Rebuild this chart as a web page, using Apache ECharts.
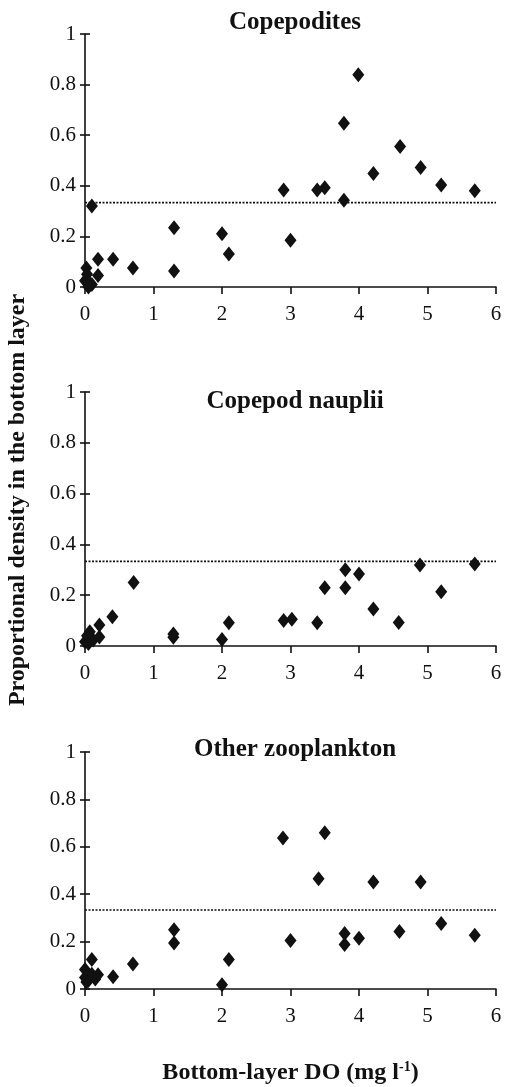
<!DOCTYPE html>
<html>
<head>
<meta charset="utf-8">
<script src="https://cdn.jsdelivr.net/npm/echarts@6/dist/echarts.min.js"></script>
<style>html,body{margin:0;padding:0;background:#fff;}#c{width:506px;height:1087px;}</style>
</head>
<body>
<div id="c"></div>
<script>
var panelTitles = ['Copepodites', 'Copepod nauplii', 'Other zooplankton'];
var yTickValues = [0, 0.2, 0.4, 0.6, 0.8, 1];
var xTickValues = [0, 1, 2, 3, 4, 5, 6];
var referenceLevel = 1 / 3;

var copepodites = [
  [0.02,0.075],[0.03,0.05],[0.0,0.025],[0.05,0.02],[0.1,0.01],[0.05,0.0],
  [0.1,0.32],[0.19,0.11],[0.41,0.11],[0.19,0.045],[0.7,0.075],
  [1.3,0.234],[1.3,0.063],[2.0,0.21],[2.1,0.13],[2.9,0.383],[3.0,0.185],
  [3.39,0.383],[3.5,0.392],[3.78,0.647],[3.78,0.343],[3.99,0.839],
  [4.21,0.449],[4.6,0.555],[4.9,0.472],[5.2,0.403],[5.69,0.38]
];
var nauplii = [
  [0.07,0.056],[0.0,0.017],[0.05,0.01],[0.12,0.024],[0.03,0.04],
  [0.4,0.115],[0.21,0.083],[0.21,0.035],[0.71,0.25],
  [1.29,0.047],[1.29,0.034],[2.0,0.026],[2.1,0.092],[2.9,0.1],[3.02,0.105],
  [3.39,0.092],[3.5,0.229],[3.8,0.3],[3.8,0.229],[4.0,0.283],[4.21,0.146],
  [4.58,0.093],[4.89,0.319],[5.2,0.214],[5.69,0.323]
];
var otherZoo = [
  [0.0,0.082],[0.0,0.049],[0.05,0.036],[0.1,0.062],[0.02,0.03],[0.15,0.042],
  [0.1,0.125],[0.19,0.06],[0.41,0.052],[0.7,0.106],
  [1.3,0.25],[1.3,0.194],[2.0,0.018],[2.1,0.124],[2.89,0.637],[3.0,0.205],
  [3.41,0.465],[3.5,0.659],[3.79,0.234],[3.79,0.188],[4.0,0.214],
  [4.21,0.452],[4.59,0.243],[4.9,0.452],[5.2,0.276],[5.69,0.227]
];
var panelData = [copepodites, nauplii, otherZoo];

var FONT = '"Liberation Serif", "Times New Roman", serif';
var grids = [
  {left: 85, width: 411, top: 34, height: 253},
  {left: 85, width: 411, top: 392, height: 254},
  {left: 85, width: 411, top: 752, height: 252}
];
var titlePos = [[295, 23], [295, 402], [295, 750]];

var xAxes = [], yAxes = [], series = [], graphics = [];
for (var i = 0; i < 3; i++) {
  var xa = {
    type: 'value', gridIndex: i, min: xTickValues[0], max: xTickValues[xTickValues.length - 1], interval: 1,
    axisLine: {show: true, lineStyle: {color: '#111', width: 1.6}},
    axisTick: {show: true, inside: false, length: 7, lineStyle: {color: '#111', width: 1.6}},
    axisLabel: {margin: 17, color: '#111', fontSize: 21, fontFamily: FONT},
    splitLine: {show: false}
  };
  if (i === 2) {
    xa.name = '{a|Bottom-layer DO (mg l}{s|-1}{a|)}';
    xa.nameLocation = 'middle';
    xa.nameGap = 70;
    xa.nameTextStyle = {
      rich: {
        a: {fontSize: 24, fontWeight: 'bold', fontFamily: FONT, color: '#111', lineHeight: 28},
        s: {fontSize: 14, fontWeight: 'bold', fontFamily: FONT, color: '#111', lineHeight: 28, padding: [0, 0, 12, 0]}
      }
    };
  }
  xAxes.push(xa);
  yAxes.push({
    type: 'value', gridIndex: i, min: 0, max: 1, interval: 0.2, position: 'left',
    axisLine: {show: true, onZero: false, lineStyle: {color: '#111', width: 1.6}},
    axisTick: {show: true, inside: false, length: 5, lineStyle: {color: '#111', width: 1.6}},
    axisLabel: {margin: 9, color: '#111', fontSize: 21, fontFamily: FONT},
    splitLine: {show: false}
  });
  yAxes.push({
    type: 'value', gridIndex: i, min: 0, max: 1, interval: 0.2, position: 'left',
    axisLine: {show: false},
    axisTick: {show: true, inside: true, length: 5, lineStyle: {color: '#111', width: 1.6}},
    axisLabel: {show: false},
    splitLine: {show: false}
  });
  series.push({
    type: 'scatter', xAxisIndex: i, yAxisIndex: i * 2, data: panelData[i],
    symbol: 'diamond', symbolSize: [12, 15],
    itemStyle: {color: '#111', opacity: 1}, silent: true, z: 3
  });
  series.push({
    type: 'line', xAxisIndex: i, yAxisIndex: i * 2,
    data: [[xTickValues[0], referenceLevel], [xTickValues[xTickValues.length - 1], referenceLevel]],
    symbol: 'none', silent: true, z: 2,
    lineStyle: {color: '#111', width: 1.6, type: [2, 1.5]}
  });
  graphics.push({
    type: 'text', x: titlePos[i][0], y: titlePos[i][1],
    style: {text: panelTitles[i], fontSize: 25, fontWeight: 'bold', fontFamily: FONT, fill: '#111',
      align: 'center', verticalAlign: 'middle', textAlign: 'center', textVerticalAlign: 'middle'}
  });
}
graphics.push({
  type: 'text', x: 18, y: 500, rotation: Math.PI / 2,
  style: {text: 'Proportional density in the bottom layer', fontSize: 24, fontWeight: 'bold', fontFamily: FONT, fill: '#111',
    align: 'center', verticalAlign: 'middle', textAlign: 'center', textVerticalAlign: 'middle'}
});

var chart = echarts.init(document.getElementById('c'), null, {renderer: 'canvas'});
chart.setOption({
  animation: false,
  backgroundColor: '#fff',
  grid: grids,
  xAxis: xAxes,
  yAxis: yAxes,
  series: series,
  graphic: graphics
});
</script>
</body>
</html>
